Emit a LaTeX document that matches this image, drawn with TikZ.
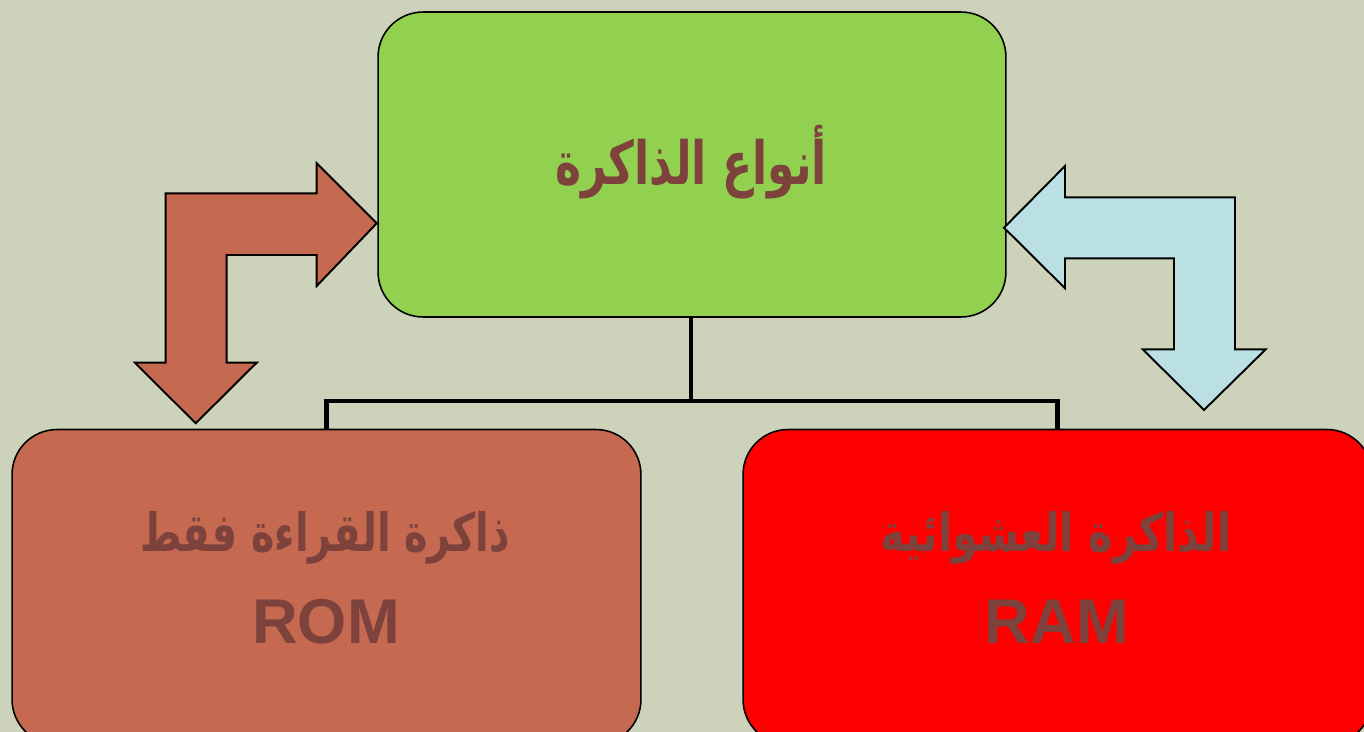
\documentclass[tikz,border=0pt]{standalone}
\usepackage{fontspec}
\usepackage{graphicx}
\newfontfamily\arabicfont[Script=Arabic]{DejaVu Sans}
\newfontfamily\latfont{Liberation Sans}
\TeXXeTstate=1
\definecolor{bg}{RGB}{205,211,187}
\definecolor{topgreen}{RGB}{146,208,80}
\definecolor{rombrown}{RGB}{197,105,80}
\definecolor{ramred}{RGB}{255,0,0}
\definecolor{arrblue}{RGB}{187,224,228}
\definecolor{txtbrown}{RGB}{125,66,60}
\begin{document}
\begin{tikzpicture}[x=0.02cm,y=-0.02cm,
  box/.style={draw=black,line width=0.9pt,rounded corners=0.9cm,inner sep=0pt},
  conn/.style={draw=black,line width=2.6pt},
  bentarrow/.style={draw=black,line width=1.1pt,line join=miter},
  txt/.style={text=txtbrown,inner sep=0pt}]
\useasboundingbox (0,0) rectangle (1364,732);
\clip (0,0) rectangle (1364,732);
\fill[bg] (0,0) rectangle (1364,732);
% boxes
\node[box,fill=topgreen,minimum width=12.56cm,minimum height=6.1cm] (top) at (692,164.5) {};
\node[box,fill=rombrown,minimum width=12.58cm,minimum height=6.3cm] (rom) at (326.5,587) {};
\node[box,fill=ramred,minimum width=12.58cm,minimum height=6.3cm] (ram) at (1057.5,587) {};
% connectors
\coordinate (j) at (691,401);
\draw[conn] (top.south -| j) -- (j);
\draw[conn] (j) -| (rom.north);
\draw[conn] (j) -| (ram.north);
% bent arrows
\filldraw[bentarrow,fill=rombrown] (165.7,193.3) -- (316.7,193.3) -- (316.7,163.3) -- (376.7,223.3) -- (316.7,286) -- (316.7,255) -- (226.7,255) -- (226.7,362.7) -- (256.7,362.7) -- (195.7,423.3) -- (135,362.7) -- (165.7,362.7) -- cycle;
\filldraw[bentarrow,fill=arrblue] (1235,197.3) -- (1065,197.3) -- (1065,166) -- (1004,227.7) -- (1065,288.3) -- (1065,258.3) -- (1174,258.3) -- (1174,349.3) -- (1142.7,349.3) -- (1204,410) -- (1265.7,349.3) -- (1235,349.3) -- cycle;
% texts
\node[txt] (t1) at (691,162) {\scalebox{0.74}[1]{\fontsize{34}{40}\arabicfont\bfseries\beginR أنواع الذاكرة\endR}};
\node[txt] (t2) at (325,538) {\scalebox{0.755}[1]{\fontsize{30}{36}\arabicfont\bfseries\beginR ذاكرة القراءة فقط\endR}};
\node[txt] (t3) at (326,622) {\fontsize{36}{40}\latfont\bfseries ROM};
\node[txt] (t4) at (1056,538) {\scalebox{0.79}[1]{\fontsize{30}{36}\arabicfont\bfseries\beginR الذاكرة العشوائية\endR}};
\node[txt] (t5) at (1057,622) {\fontsize{36}{40}\latfont\bfseries RAM};
\end{tikzpicture}
\end{document}
